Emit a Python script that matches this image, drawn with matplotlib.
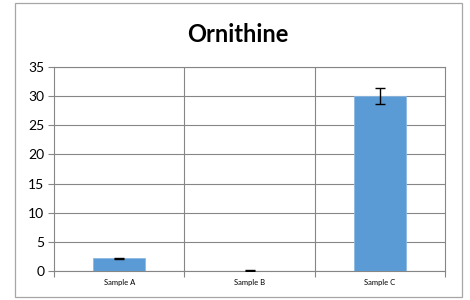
import matplotlib
matplotlib.use("Agg")
import matplotlib.pyplot as plt
from matplotlib.patches import Rectangle

categories = ["Sample A", "Sample B", "Sample C"]
values = [2.2, 0.05, 30.0]
errors = [0.1, 0.05, 1.4]
yticks = [0, 5, 10, 15, 20, 25, 30, 35]
title = "Ornithine"

plt.rcParams['font.family'] = ['Lato', 'DejaVu Sans']

W, H = 470, 300
fig = plt.figure(figsize=(W/100, H/100), dpi=100)
fig.patch.set_facecolor('white')

# outer chart border
fig.add_artist(Rectangle((15/W, 1 - 297/H), (462-15)/W, (297-3)/H,
                         transform=fig.transFigure, fill=False,
                         edgecolor='#a6a6a6', linewidth=0.9))

left, right, top, bottom = 54, 445, 67, 271
ax = fig.add_axes([left/W, 1 - bottom/H, (right-left)/W, (bottom-top)/H])

x = list(range(len(categories)))
ax.bar(x, values, width=0.4, color='#5b9bd5', edgecolor='#8db8e2', linewidth=0.6, zorder=3)
ax.errorbar(x, values, yerr=errors, fmt='none', ecolor='black', elinewidth=1.0,
            capsize=3.5, capthick=1.0, zorder=4)

ax.set_xlim(-0.5, 2.5)
ax.set_ylim(0, 35)
ax.set_yticks(yticks)
ax.set_yticklabels([str(v) for v in yticks], fontsize=10)
ax.set_xticks([-0.5, 0.5, 1.5, 2.5])
ax.set_xticklabels([])
ax.set_xticks(x, minor=True)
ax.set_xticklabels(categories, minor=True, fontsize=5.5)
ax.tick_params(axis='x', which='minor', length=0, pad=6)
ax.tick_params(axis='x', which='major', length=4, color='#868686', width=0.8)
ax.tick_params(axis='y', length=4, color='#868686', width=0.8, pad=3)

ax.grid(True, axis='y', color='#868686', linewidth=0.8, zorder=0)
for xv in [0.5, 1.5]:
    ax.axvline(xv, color='#868686', linewidth=0.8, zorder=0)
for s in ax.spines.values():
    s.set_color('#868686')
    s.set_linewidth(0.8)
ax.set_axisbelow(True)

fig.text(238/W, 1 - 34/H, title, ha='center', va='center',
         fontsize=17, fontweight='bold')

fig.savefig("out.png", dpi=100)
